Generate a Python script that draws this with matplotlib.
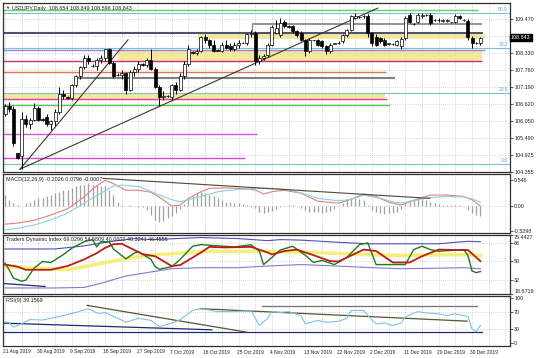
import matplotlib
matplotlib.use('Agg')
import matplotlib.pyplot as plt
import matplotlib.transforms as mtransforms

plt.rcParams['font.family'] = ['Liberation Sans', 'DejaVu Sans']

# ---- USDJPY daily candles, bar 0 = 21 Aug 2019 (Sunday bars included) ----
opens = [106.30, 106.55, 106.45, 104.98, 104.88, 106.11, 105.95, 106.10, 106.50, 106.12,
         106.20, 105.95, 106.05, 106.35, 106.95, 106.85, 106.82, 107.25, 107.55, 107.85,
         108.15, 107.90, 107.88, 108.10, 108.15, 108.45, 108.00, 107.60, 107.58, 107.65,
         107.10, 107.70, 107.80, 107.95, 107.93, 108.10, 107.80, 107.20, 106.85, 106.90,
         106.85, 107.25, 107.10, 107.55, 107.95, 108.35, 108.32, 108.40, 108.85, 108.75,
         108.60, 108.42, 108.40, 108.60, 108.55, 108.45, 108.60, 108.68, 108.67, 108.95,
         109.00, 108.05, 108.15, 108.25, 108.61, 109.00, 108.94, 109.38, 109.22, 109.22,
         109.05, 108.99, 108.77, 108.38, 108.75, 108.75, 108.72, 108.55, 108.38, 108.64,
         108.66, 108.72, 108.94, 109.10, 109.49, 109.53, 109.55, 109.55, 108.99, 108.88,
         108.83, 108.77, 108.64, 108.63, 108.61, 108.55, 108.83, 109.60, 109.30, 109.38,
         109.55, 109.60, 109.60, 109.44, 109.44, 109.41, 109.40, 109.35, 109.38, 109.55,
         109.44, 109.41, 108.83, 108.66, 108.654]
highs = [106.62, 106.70, 106.55, 105.00, 106.35, 106.25, 106.15, 106.65, 106.55, 106.15,
         106.30, 106.10, 106.45, 107.20, 107.10, 106.88, 107.30, 107.60, 107.90, 108.25,
         108.25, 107.95, 108.15, 108.25, 108.48, 108.50, 108.05, 107.65, 107.75, 107.70,
         107.75, 107.90, 108.05, 107.98, 108.15, 108.48, 107.85, 107.25, 107.05, 106.92,
         107.30, 107.35, 107.65, 108.05, 108.60, 108.40, 108.45, 108.90, 108.95, 108.80,
         108.75, 108.45, 108.70, 108.75, 108.65, 108.70, 108.75, 108.70, 109.00, 109.10,
         109.05, 108.25, 108.30, 108.65, 109.25, 109.44, 109.49, 109.42, 109.25, 109.28,
         109.10, 109.05, 108.80, 108.82, 108.78, 108.80, 108.78, 108.60, 108.66, 108.68,
         108.72, 108.98, 109.12, 109.60, 109.66, 109.56, 109.60, 109.62, 109.02, 108.95,
         108.88, 108.82, 108.68, 108.66, 108.78, 108.85, 109.55, 109.68, 109.33, 109.65,
         109.66, 109.63, 109.65, 109.47, 109.50, 109.45, 109.48, 109.38, 109.62, 109.60,
         109.47, 109.45, 108.90, 108.70, 108.849]
lows = [106.23, 106.35, 105.23, 104.78, 104.46, 105.85, 105.80, 106.05, 106.05, 106.05,
        105.90, 105.75, 105.90, 106.30, 106.80, 106.80, 106.75, 107.20, 107.45, 107.80,
        107.95, 107.85, 107.75, 108.00, 108.05, 107.95, 107.50, 107.55, 107.45, 106.95,
        107.05, 107.55, 107.70, 107.90, 107.85, 107.75, 107.15, 106.55, 106.75, 106.85,
        106.75, 106.95, 107.05, 107.45, 107.90, 108.30, 108.25, 108.35, 108.65, 108.50,
        108.35, 108.38, 108.35, 108.45, 108.40, 108.40, 108.50, 108.65, 108.60, 108.85,
        107.92, 107.95, 108.10, 108.20, 108.58, 108.95, 108.88, 109.15, 109.18, 109.00,
        108.88, 108.72, 108.24, 108.32, 108.72, 108.55, 108.50, 108.30, 108.33, 108.62,
        108.62, 108.66, 108.88, 109.05, 109.45, 109.50, 109.50, 108.88, 108.55, 108.58,
        108.68, 108.58, 108.60, 108.60, 108.56, 108.45, 108.78, 109.32, 109.27, 109.33,
        109.50, 109.57, 109.28, 109.40, 109.38, 109.37, 109.36, 109.32, 109.33, 109.45,
        109.40, 108.77, 108.50, 108.62, 108.598]
closes = [106.55, 106.45, 105.32, 104.82, 106.11, 105.95, 106.10, 106.50, 106.10, 106.08,
          105.95, 106.05, 106.35, 106.95, 106.90, 106.82, 107.25, 107.55, 107.85, 108.15,
          108.05, 107.88, 108.10, 108.15, 108.45, 108.00, 107.55, 107.60, 107.65, 107.10,
          107.70, 107.80, 107.95, 107.93, 108.10, 107.80, 107.20, 106.85, 106.90, 106.88,
          107.25, 107.10, 107.55, 107.95, 108.45, 108.32, 108.40, 108.85, 108.75, 108.60,
          108.40, 108.40, 108.60, 108.50, 108.45, 108.60, 108.65, 108.67, 108.95, 109.00,
          108.05, 108.15, 108.22, 108.60, 109.20, 109.15, 109.33, 109.22, 109.20, 109.05,
          108.94, 108.77, 108.38, 108.77, 108.75, 108.61, 108.55, 108.38, 108.61, 108.66,
          108.68, 108.94, 109.10, 109.55, 109.55, 109.53, 109.55, 108.99, 108.66, 108.61,
          108.72, 108.61, 108.64, 108.63, 108.72, 108.80, 109.49, 109.38, 109.30, 109.60,
          109.60, 109.60, 109.33, 109.44, 109.44, 109.41, 109.42, 109.35, 109.57, 109.49,
          109.44, 108.86, 108.66, 108.66, 108.843]

date_bars = [0, 8, 16, 24, 32, 40, 48, 56, 64, 72, 80, 88, 96, 104, 112]
date_labels = ['21 Aug 2019', '30 Aug 2019', '9 Sep 2019', '18 Sep 2019', '27 Sep 2019',
               '7 Oct 2019', '16 Oct 2019', '25 Oct 2019', '4 Nov 2019', '13 Nov 2019',
               '22 Nov 2019', '2 Dec 2019', '11 Dec 2019', '20 Dec 2019', '30 Dec 2019']

price_ticks = [109.470, 108.900, 108.330, 107.760, 107.190, 106.620, 106.050, 105.490, 104.925, 104.355]
last_price = 108.843

# horizontal levels: price, first bar, last bar, colour, width
lvl_price = [109.77, 109.29, 108.99, 108.44, 108.05, 107.69, 107.50, 106.80, 106.58, 105.62, 104.81]
lvl_from = [-0.5, 59.2, -0.5, -0.5, -0.5, -0.5, 17.3, -0.5, -0.5, -0.5, -0.5]
lvl_to = [113.4, 114.4, 114.6, 115.1, 114.4, 91.4, 93.5, 91.6, 92.3, 60.4, 57.6]
lvl_color = ['#66d066', '#8a8a8a', '#4c5473', '#a080e0', '#c8326e', '#f07050', '#808080',
             '#d83cae', '#50cc50', '#e050e0', '#d050d0']
lvl_width = [1.0, 1.3, 1.5, 1.0, 1.0, 1.0, 1.5, 1.0, 1.0, 1.0, 1.0]

# supply/demand zones: low, high, first bar, last bar
zone_lo = [108.80, 108.05, 106.80]
zone_hi = [108.96, 108.38, 106.97]
zone_from = [46.3, 27.1, -0.5]
zone_to = [115.1, 114.4, 91.1]

# fibonacci anchors
fib_low = 104.62
fib_high = 114.74
fib_ratios = [0.0, 23.6, 38.2, 50.0]

# trend lines on the price panel
tl_x0 = [3.6, 3.6]
tl_p0 = [104.45, 104.45]
tl_x1 = [29.5, 89.4]
tl_p1 = [108.77, 109.83]

# ---- MACD(12,26,9) ----
macd_hist = [0.23, 0.13, 0.06, 0.02, 0.01, 0.06, 0.09, 0.13, 0.16, 0.16,
             0.20, 0.23, 0.27, 0.30, 0.34, 0.34, 0.37, 0.41, 0.44, 0.44,
             0.48, 0.44, 0.44, 0.41, 0.41, 0.34, 0.23, 0.09, 0.02, -0.01,
             0.02, 0.01, -0.02, -0.03, -0.08, -0.18, -0.29, -0.33, -0.31, -0.25,
             -0.20, -0.14, -0.06, 0.05, 0.16, 0.20, 0.27, 0.30, 0.27, 0.23,
             0.20, 0.16, 0.13, 0.09, 0.09, 0.06, 0.06, 0.05, 0.02, -0.02,
             -0.04, -0.12, -0.15, -0.12, -0.10, -0.06, -0.03, 0.01, 0.03, 0.02,
             0.00, -0.04, -0.08, -0.12, -0.12, -0.13, -0.14, -0.12, -0.10, -0.06,
             -0.01, 0.06, 0.12, 0.16, 0.16, 0.15, 0.12, 0.02, -0.08, -0.13,
             -0.15, -0.16, -0.15, -0.14, -0.12, -0.06, 0.04, 0.12, 0.14, 0.15,
             0.14, 0.12, 0.08, 0.06, 0.04, 0.03, 0.02, 0.02, 0.03, 0.02,
             0.00, -0.08, -0.15, -0.18, -0.20]
macd_x = [0, 3, 7, 11, 15, 19, 21, 24, 26, 29, 32, 35, 37, 39, 40, 42, 44, 47, 49, 53,
          56, 60, 62, 64, 67, 71, 75, 80, 83, 86, 89, 92, 95, 99, 102, 106, 110, 112, 114]
macd_main = [-0.38, -0.36, -0.30, -0.19, -0.06, 0.19, 0.36, 0.54, 0.47, 0.33, 0.33, 0.29,
             0.19, 0.06, 0.0, 0.02, 0.16, 0.30, 0.37, 0.38, 0.37, 0.34, 0.25, 0.30, 0.33,
             0.27, 0.10, 0.06, 0.14, 0.25, 0.20, 0.08, 0.02, 0.15, 0.23, 0.23, 0.20, 0.13, 0.0]
sig_x = [0, 3, 7, 11, 15, 19, 23, 26, 28, 32, 36, 40, 42, 47, 51, 55, 60, 64, 68, 71,
         75, 80, 83, 86, 89, 93, 95, 99, 102, 106, 110, 112, 114]
macd_signal = [-0.50, -0.47, -0.40, -0.29, -0.15, 0.06, 0.27, 0.42, 0.44, 0.41, 0.27, 0.13,
               0.09, 0.20, 0.30, 0.34, 0.37, 0.37, 0.34, 0.27, 0.16, 0.11, 0.14, 0.23, 0.18,
               0.09, 0.06, 0.13, 0.18, 0.20, 0.19, 0.15, 0.08]
macd_tl = ([23.5, 101.9], [0.58, 0.16])

# ---- Traders Dynamic Index ----
up_x = [0, 12, 19, 25, 31, 35, 47, 56, 63, 66, 71, 80, 87, 95, 104, 111, 114]
tdi_upper = [62, 62, 65, 69, 72, 71, 73, 72, 70, 71, 70.5, 68.4, 67, 67, 67, 69.4, 69.0]
lo_x = [0, 12, 19, 23, 29, 36, 40, 47, 56, 63, 71, 80, 88, 95, 104, 110, 114]
tdi_lower = [24.5, 24.5, 25, 29, 36, 40.5, 43, 44, 44, 45.6, 47, 45.5, 44, 43, 43.5, 44, 43]
mid_x = [0, 10, 15, 23, 31, 37, 44, 50, 56, 63, 71, 80, 87, 95, 104, 111, 114]
tdi_mid = [45, 43, 42, 48, 54, 56.7, 58.5, 59.8, 59.8, 59.8, 59, 57.6, 56.5, 55.7, 56.5, 56.5, 55.7]
red_x = [0, 3, 5, 11, 15, 19, 22, 24, 26, 28, 31, 33, 36, 40, 42, 47, 49, 53, 59, 63,
         64, 67, 70, 74, 78, 80, 86, 89, 93, 97, 100, 104, 108, 111, 114]
tdi_signal = [47, 45, 42, 42, 45.6, 52, 58, 63, 66.5, 67, 61, 57, 55, 45.5, 46.5, 58.6, 64,
              63.5, 64, 58.6, 56.7, 60, 61.4, 56, 50.3, 50, 61.4, 60, 49, 49, 55, 61.4, 61,
              61, 50.3]
grn_x = [0, 1, 2, 4, 5, 7, 9, 11, 14, 16, 19, 21, 22, 23, 25, 26, 29, 31, 32, 35, 36, 37,
         40, 42, 45, 47, 51, 55, 59, 61, 62, 64, 66, 69, 72, 74, 76, 79, 82, 85, 87, 89,
         94, 96, 98, 100, 102, 104, 110, 111, 112, 113, 114]
tdi_price = [48.4, 42, 34, 31, 32, 43.6, 50, 49, 56.6, 62.7, 69, 71, 64, 69, 69, 62, 52.5,
             58, 59.5, 52, 45, 42.5, 45, 52, 64.6, 66.2, 65, 64, 66, 60, 47, 53.8, 61, 64.6,
             56, 49, 51, 47, 54, 66.2, 67.8, 47, 47, 47, 61.4, 64.6, 61.4, 59.8, 61.4, 56,
             40.8, 39.2, 40.3]
tdi_tl = ([-0.5, 9.6], [28.8, 25.9])

# ---- RSI(9) ----
rsi_x = [0, 1, 2, 3, 6, 9, 13, 17, 20, 22, 23, 24, 27, 29, 32, 35, 37, 40, 42, 45, 47,
         51, 55, 59, 61, 63, 64, 66, 68, 71, 72, 75, 77, 80, 82, 83, 86, 87, 89, 91, 93,
         95, 96, 99, 101, 104, 106, 108, 111, 112, 113, 114]
rsi = [47, 45, 35, 38, 52, 51, 59, 68, 76.5, 67, 66, 68, 55, 46, 55, 50, 36, 44, 52, 72.7,
       76.5, 70, 70, 72, 38.6, 55, 69.9, 68, 70, 61, 42.4, 50, 46, 48, 55, 72.7, 72.7, 61,
       42.4, 44, 38.6, 44, 58, 69.9, 67, 65, 61, 65, 59, 31, 25, 38.6]
rsi_lines = [([-0.5, 49.6], [43.9, 28.9], '#1c2a6e'),
             ([-0.5, 114.4], [23.4, 23.4], '#1c2a6e'),
             ([61.6, 113.2], [83.0, 83.0], '#707070'),
             ([19.7, 58.0], [84.0, 23.4], '#55552e'),
             ([46.8, 110.8], [76.6, 48.4], '#55552e')]

# ---------------- figure ----------------
W, H = 536, 358
fig = plt.figure(figsize=(W / 100, H / 100), dpi=100)
fig.patch.set_facecolor('white')


def add_panel(top, bottom):
    return fig.add_axes([3 / W, 1 - bottom / H, (510 - 3) / W, (bottom - top) / H])


ax = add_panel(3, 172)
ax_macd = add_panel(174, 233)
ax_tdi = add_panel(235, 294)
ax_rsi = add_panel(296, 346)

xlim = (-0.48, 121.1)
grid_x = list(range(0, 121, 4))
fs = 3.9

for a in (ax, ax_macd, ax_tdi, ax_rsi):
    a.set_xlim(*xlim)
    a.set_facecolor('white')
    for s in a.spines.values():
        s.set_color('#303030')
        s.set_linewidth(0.9)
    a.yaxis.tick_right()
    a.tick_params(axis='y', labelsize=fs, length=2, width=0.5, pad=1, colors='#202020')
    a.tick_params(axis='x', length=0, labelbottom=False)
    a.set_xticks(grid_x)
    a.grid(axis='x', color='#b4b4b4', linestyle=(0, (1, 2)), linewidth=0.5)
    a.set_axisbelow(True)

# ---- price panel ----
ax.set_ylim(104.355, 110.0)
ax.set_yticks(price_ticks)
ax.set_yticklabels(['%.3f' % p if abs(p - 108.9) > 1e-6 else '' for p in price_ticks])
for p in price_ticks:
    ax.axhline(p, color='#b4b4b4', linestyle=(0, (1, 2)), linewidth=0.5, zorder=0)

for lo, hi, x0, x1 in zip(zone_lo, zone_hi, zone_from, zone_to):
    ax.fill_between([x0, x1], lo, hi, color='#f2e48c', alpha=0.85, lw=0, zorder=1)

fib_prices = [fib_low + (fib_high - fib_low) * r / 100 for r in fib_ratios]
for r, p in zip(fib_ratios, fib_prices):
    ax.axhline(p, color='#79c2d6', linewidth=0.8, zorder=2)
    ax.text(120.6, p + 0.03, '%.1f' % r, color='#5aaed0', fontsize=3.6, ha='right', va='bottom', zorder=6)

for p, x0, x1, c, lw in zip(lvl_price, lvl_from, lvl_to, lvl_color, lvl_width):
    ax.hlines(p, x0, x1, color=c, linewidth=lw, zorder=2)
ax.vlines(lvl_from[1], lvl_price[2], lvl_price[1], color=lvl_color[1], linewidth=1.0, zorder=2)

for x0, p0, x1, p1 in zip(tl_x0, tl_p0, tl_x1, tl_p1):
    ax.plot([x0, x1], [p0, p1], color='#3a3a28', linewidth=0.8, zorder=3)

bars = list(range(len(closes)))
ax.vlines(bars, lows, highs, color='black', linewidth=0.7, zorder=4)
body_lo = [min(o, c) for o, c in zip(opens, closes)]
body_h = [max(abs(c - o), 0.008) for o, c in zip(opens, closes)]
body_col = ['white' if c >= o else 'black' for o, c in zip(opens, closes)]
ax.bar(bars, body_h, bottom=body_lo, width=0.72, color=body_col, edgecolor='black',
       linewidth=0.5, zorder=5)

ax.text(0.004, 0.985, '\u25bc', transform=ax.transAxes, fontsize=3, va='top',
        ha='left', color='#202020')
ax.text(0.018, 0.985, 'USDJPY,Daily  108.654 108.849 108.598 108.843', transform=ax.transAxes,
        fontsize=fs, va='top', ha='left', color='#202020')
trans = mtransforms.blended_transform_factory(ax.transAxes, ax.transData)
ax.text(1.002, last_price, '%.3f' % last_price, transform=trans, fontsize=fs, color='white',
        va='center', ha='left', zorder=10,
        bbox=dict(boxstyle='square,pad=0.25', facecolor='black', edgecolor='black'))

# ---- MACD panel ----
ax_macd.set_ylim(-0.567, 0.672)
ax_macd.set_yticks([0.546, 0.0, -0.5298])
ax_macd.set_yticklabels(['0.546', '0.00', '-0.5298'])
ax_macd.axhline(0.0, color='#b4b4b4', linestyle=(0, (1, 2)), linewidth=0.5, zorder=0)
ax_macd.vlines(bars, 0, macd_hist, color='#a0a0a0', linewidth=0.9, zorder=2)
ax_macd.plot(macd_x, macd_main, color='#e28080', linewidth=0.8, zorder=3)
ax_macd.plot(sig_x, macd_signal, color='#86d2e2', linewidth=0.8, zorder=3)
ax_macd.plot(macd_tl[0], macd_tl[1], color='#4a4a30', linewidth=0.8, zorder=4)
ax_macd.text(0.006, 0.95, 'MACD(12,26,9) -0.2026 0.0796 -0.0007', transform=ax_macd.transAxes,
             fontsize=fs, va='top', ha='left', color='#202020')

# ---- TDI panel ----
ax_tdi.set_ylim(18.6719, 75.4427)
ax_tdi.set_yticks([75.4427, 68, 50, 32, 18.6719])
ax_tdi.set_yticklabels(['75.4427', '68', '50', '32', '18.6719'])
labs = ax_tdi.get_yticklabels()
labs[0].set_va('top')
labs[-1].set_va('bottom')
for lv in (68, 50, 32):
    ax_tdi.axhline(lv, color='#b4b4b4', linestyle=(0, (1, 2)), linewidth=0.5, zorder=0)
ax_tdi.plot(mid_x, tdi_mid, color='#f6ee70', linewidth=2.6, alpha=0.9, zorder=2)
ax_tdi.plot(up_x, tdi_upper, color='#5050bc', linewidth=0.8, zorder=3)
ax_tdi.plot(lo_x, tdi_lower, color='#8878d0', linewidth=0.8, zorder=3)
ax_tdi.plot(grn_x, tdi_price, color='#1f7a1f', linewidth=1.0, zorder=4)
ax_tdi.plot(red_x, tdi_signal, color='#b81e14', linewidth=1.3, zorder=5)
ax_tdi.plot(tdi_tl[0], tdi_tl[1], color='#1c2a6e', linewidth=0.9, zorder=4)
ax_tdi.text(0.006, 0.97, 'Traders Dynamic Index 69.0296 54.5809 40.0602 40.3241 46.4556',
            transform=ax_tdi.transAxes, fontsize=fs, va='top', ha='left', color='#202020', zorder=6)

# ---- RSI panel ----
ax_rsi.set_ylim(-7.7, 105.2)
ax_rsi.set_yticks([100, 70, 30, 0])
ax_rsi.set_yticklabels(['100', '70', '30', '0'])
for lv in (70, 30):
    ax_rsi.axhline(lv, color='#b4b4b4', linestyle=(0, (1, 2)), linewidth=0.5, zorder=0)
ax_rsi.plot(rsi_x, rsi, color='#7ec2e2', linewidth=0.8, zorder=3)
for xs, ys, c in rsi_lines:
    ax_rsi.plot(xs, ys, color=c, linewidth=0.9, zorder=2)
ax_rsi.text(0.006, 0.96, 'RSI(9) 39.1569', transform=ax_rsi.transAxes, fontsize=fs,
            va='top', ha='left', color='#202020')

dtrans = mtransforms.blended_transform_factory(ax_rsi.transData, ax_rsi.transAxes)
for b, lab in zip(date_bars, date_labels):
    ax_rsi.text(b - 0.4, -0.12, lab, transform=dtrans, fontsize=3.5, ha='left', va='center',
                color='#202020')

fig.savefig('out.png', dpi=100, facecolor='white')
